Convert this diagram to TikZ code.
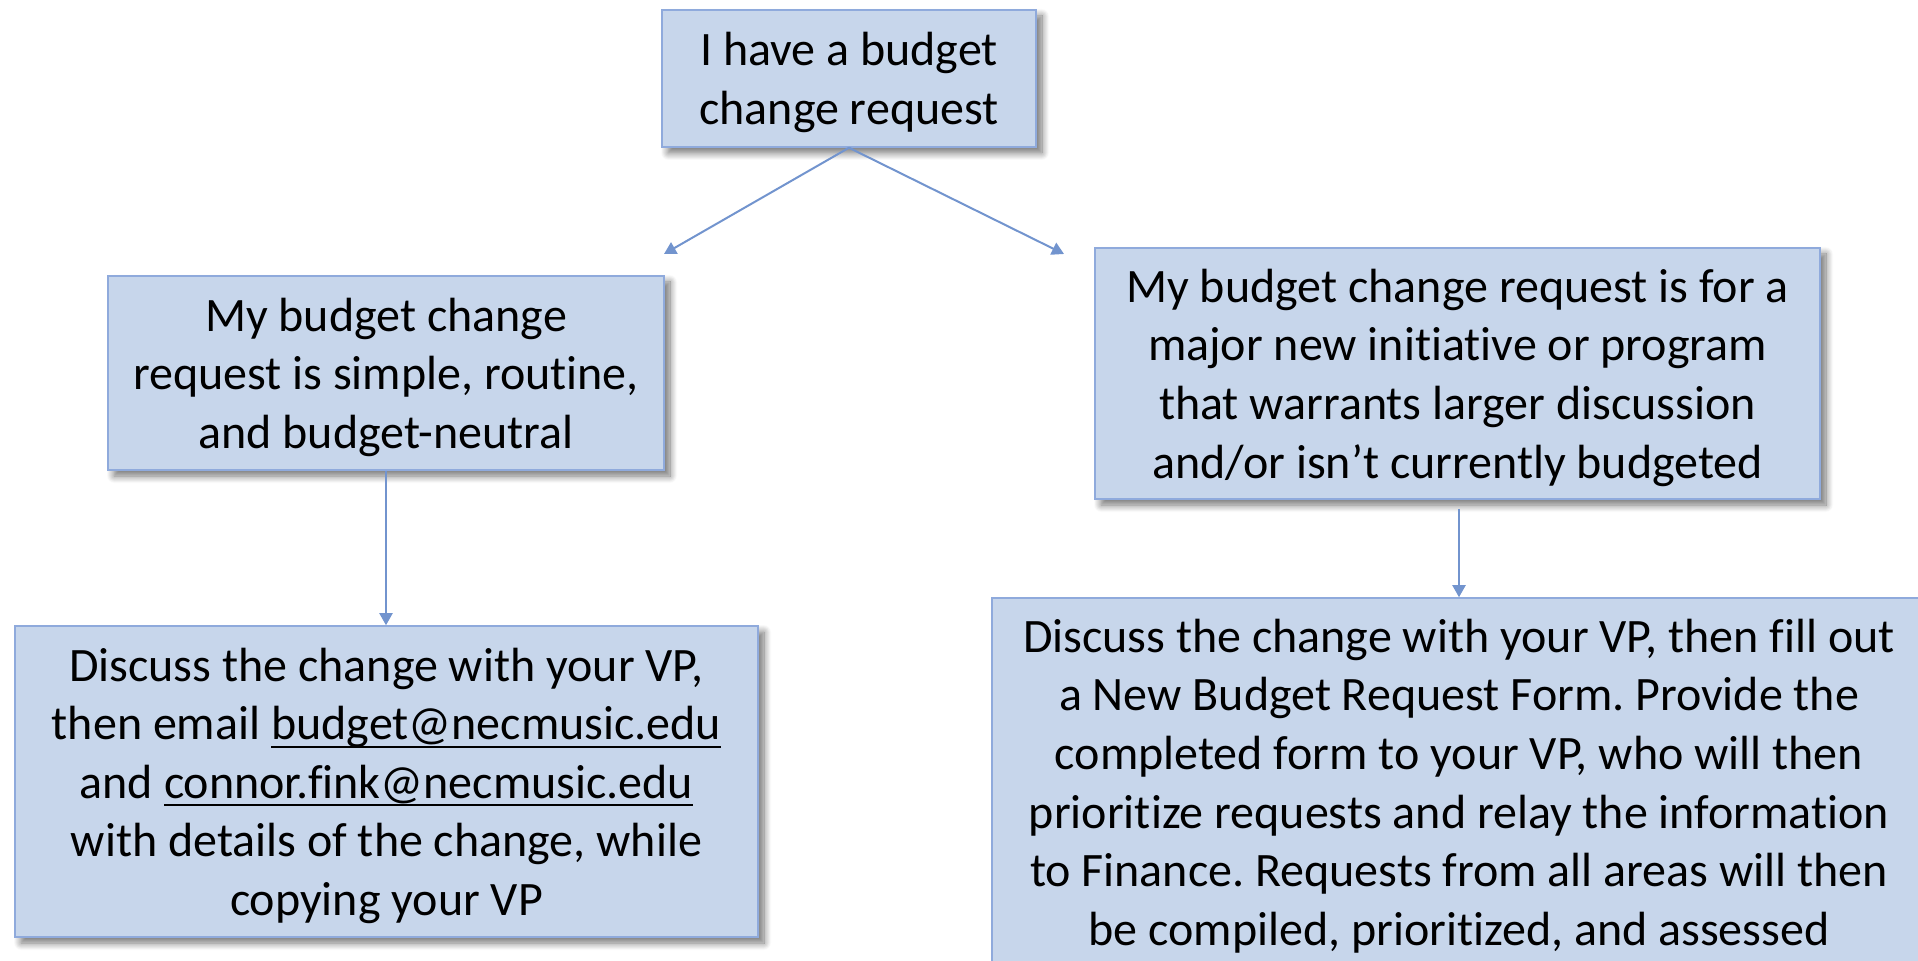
\documentclass[tikz,border=0pt]{standalone}
\usepackage{fontspec}
\setmainfont{Carlito}[Ligatures={NoCommon}]
\usetikzlibrary{arrows.meta,shadows.blur}
\definecolor{boxfill}{RGB}{199,214,235}
\definecolor{boxline}{RGB}{143,170,220}
\definecolor{arrowc}{RGB}{114,148,206}
% centred block of lines for the box labels (taller first strut lowers the block a little)
\newcommand{\boxlines}[1]{\begin{tabular}{@{}c@{}}\rule{0pt}{25.5pt}#1\end{tabular}}
% underlined e-mail address, rule set close to the baseline
\newcommand{\mailaddr}[1]{\setbox0\hbox{#1}\rlap{\rule[-4pt]{\wd0}{0.9pt}}\box0}
\frenchspacing
\begin{document}
\begin{tikzpicture}[x=0.5pt,y=-0.5pt,
  stepbox/.style={draw=boxline, line width=0.75pt, fill=boxfill,
    inner sep=0pt, font=\fontsize{24}{29.3}\selectfont,
    blur shadow={shadow xshift=3pt, shadow yshift=-3pt, shadow blur steps=10,
      shadow blur radius=3.5pt, shadow opacity=55}},
  flow/.style={draw=arrowc, line width=1pt, -{Triangle[length=6pt,width=6.5pt]}}]
\useasboundingbox (0,0) rectangle (1918,961);
\clip (0,0) rectangle (1918,961);

% decision boxes
\node[stepbox, minimum width=187pt, minimum height=68.5pt] (top) at (849,78.5)
  {\boxlines{I have a budget\\change request}};
\node[stepbox, minimum width=278pt, minimum height=97pt] (ml) at (386,373)
  {\boxlines{My budget change\\request is simple, routine,\\and budget-neutral}};
\node[stepbox, minimum width=362.5pt, minimum height=125.5pt] (mr) at (1457.5,373.5)
  {\boxlines{My budget change request is for a\\major new initiative or program\\that warrants larger discussion\\and/or isn’t currently budgeted}};

% action boxes
\node[stepbox, minimum width=371.5pt, minimum height=155.5pt] (bl) at (386.5,781.5)
  {\boxlines{Discuss the change with your VP,\\then email \mailaddr{budget@necmusic.edu}\\and \mailaddr{connor.fink@necmusic.edu}\\with details of the change, while\\copying your VP}};
\node[stepbox, minimum width=467pt, minimum height=184pt] (br) at (1459,782)
  {\boxlines{Discuss the change with your VP, then fill out\\a New Budget Request Form. Provide the\\completed form to your VP, who will then\\prioritize requests and relay the information\\to Finance. Requests from all areas will then\\be compiled, prioritized, and assessed}};

% connectors
\coordinate (lt) at (664,254);
\coordinate (rt) at (1064,254);
\coordinate (rs) at (1459,509);
\draw[flow] (top.south) -- (lt);
\draw[flow] (top.south) -- (rt);
\draw[flow] (ml.south) -- (ml.south |- bl.north);
\draw[flow] (rs) -- (rs |- br.north);
\end{tikzpicture}
\end{document}
